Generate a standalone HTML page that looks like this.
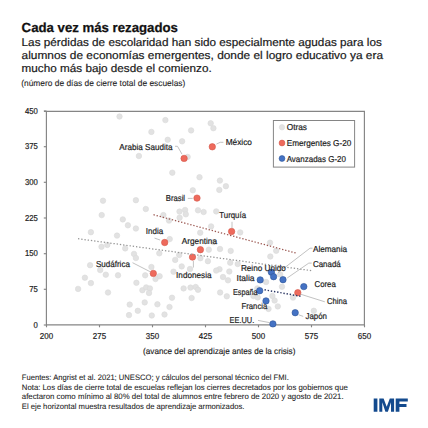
<!DOCTYPE html>
<html><head><meta charset="utf-8"><style>
html,body{margin:0;padding:0;background:#fff;width:428px;height:428px;overflow:hidden}
svg{display:block;font-family:"Liberation Sans",sans-serif;text-rendering:geometricPrecision}
</style></head><body>
<svg width="428" height="428" viewBox="0 0 428 428">
<text x="21.6" y="31.8" font-size="13.2" font-weight="bold" fill="#111" stroke="#111" stroke-width="0.25" textLength="156.3" lengthAdjust="spacingAndGlyphs">Cada vez más rezagados</text>
<text x="21.6" y="46.2" font-size="11.2" font-weight="normal" fill="#1a1a1a" stroke="#1a1a1a" stroke-width="0.2" textLength="360.2" lengthAdjust="spacingAndGlyphs">Las pérdidas de escolaridad han sido especialmente agudas para los</text>
<text x="21.6" y="58.9" font-size="11.2" font-weight="normal" fill="#1a1a1a" stroke="#1a1a1a" stroke-width="0.2" textLength="361.4" lengthAdjust="spacingAndGlyphs">alumnos de economías emergentes, donde el logro educativo ya era</text>
<text x="21.6" y="71.7" font-size="11.2" font-weight="normal" fill="#1a1a1a" stroke="#1a1a1a" stroke-width="0.2" textLength="190.1" lengthAdjust="spacingAndGlyphs">mucho más bajo desde el comienzo.</text>
<text x="21.2" y="86.0" font-size="8.5" font-weight="normal" fill="#1e1e1e" stroke="#1e1e1e" stroke-width="0.1" textLength="164.1" lengthAdjust="spacingAndGlyphs">(número de días de cierre total de escuelas)</text>
<path d="M44 111.4 H364.4 V324.9 M46.4 111 V324.9 H364.4" fill="none" stroke="#858585" stroke-width="1.15"/>
<path d="M43.8 325.0 H46.5" stroke="#858585" stroke-width="1.15"/>
<text x="37.9" y="327.5" font-size="8.6" fill="#222" stroke="#222" stroke-width="0.2" text-anchor="end" textLength="4.3" lengthAdjust="spacingAndGlyphs">0</text>
<path d="M43.8 289.3 H46.5" stroke="#858585" stroke-width="1.15"/>
<text x="37.9" y="291.8" font-size="8.6" fill="#222" stroke="#222" stroke-width="0.2" text-anchor="end" textLength="8.6" lengthAdjust="spacingAndGlyphs">75</text>
<path d="M43.8 253.7 H46.5" stroke="#858585" stroke-width="1.15"/>
<text x="37.9" y="256.2" font-size="8.6" fill="#222" stroke="#222" stroke-width="0.2" text-anchor="end" textLength="12.9" lengthAdjust="spacingAndGlyphs">150</text>
<path d="M43.8 218.0 H46.5" stroke="#858585" stroke-width="1.15"/>
<text x="37.9" y="220.5" font-size="8.6" fill="#222" stroke="#222" stroke-width="0.2" text-anchor="end" textLength="12.9" lengthAdjust="spacingAndGlyphs">225</text>
<path d="M43.8 182.3 H46.5" stroke="#858585" stroke-width="1.15"/>
<text x="37.9" y="184.8" font-size="8.6" fill="#222" stroke="#222" stroke-width="0.2" text-anchor="end" textLength="12.9" lengthAdjust="spacingAndGlyphs">300</text>
<path d="M43.8 146.7 H46.5" stroke="#858585" stroke-width="1.15"/>
<text x="37.9" y="149.2" font-size="8.6" fill="#222" stroke="#222" stroke-width="0.2" text-anchor="end" textLength="12.9" lengthAdjust="spacingAndGlyphs">375</text>
<path d="M43.8 111.0 H46.5" stroke="#858585" stroke-width="1.15"/>
<text x="37.9" y="113.5" font-size="8.6" fill="#222" stroke="#222" stroke-width="0.2" text-anchor="end" textLength="12.9" lengthAdjust="spacingAndGlyphs">450</text>
<path d="M46.5 325 V327.3" stroke="#858585" stroke-width="1.15"/>
<text x="46.5" y="339.3" font-size="8.6" fill="#222" stroke="#222" stroke-width="0.2" text-anchor="middle" textLength="13.3" lengthAdjust="spacingAndGlyphs">200</text>
<path d="M99.5 325 V327.3" stroke="#858585" stroke-width="1.15"/>
<text x="99.5" y="339.3" font-size="8.6" fill="#222" stroke="#222" stroke-width="0.2" text-anchor="middle" textLength="13.3" lengthAdjust="spacingAndGlyphs">275</text>
<path d="M152.5 325 V327.3" stroke="#858585" stroke-width="1.15"/>
<text x="152.5" y="339.3" font-size="8.6" fill="#222" stroke="#222" stroke-width="0.2" text-anchor="middle" textLength="13.3" lengthAdjust="spacingAndGlyphs">350</text>
<path d="M205.5 325 V327.3" stroke="#858585" stroke-width="1.15"/>
<text x="205.5" y="339.3" font-size="8.6" fill="#222" stroke="#222" stroke-width="0.2" text-anchor="middle" textLength="13.3" lengthAdjust="spacingAndGlyphs">425</text>
<path d="M258.5 325 V327.3" stroke="#858585" stroke-width="1.15"/>
<text x="258.5" y="339.3" font-size="8.6" fill="#222" stroke="#222" stroke-width="0.2" text-anchor="middle" textLength="13.3" lengthAdjust="spacingAndGlyphs">500</text>
<path d="M311.5 325 V327.3" stroke="#858585" stroke-width="1.15"/>
<text x="311.5" y="339.3" font-size="8.6" fill="#222" stroke="#222" stroke-width="0.2" text-anchor="middle" textLength="13.3" lengthAdjust="spacingAndGlyphs">575</text>
<path d="M364.5 325 V327.3" stroke="#858585" stroke-width="1.15"/>
<text x="364.5" y="339.3" font-size="8.6" fill="#222" stroke="#222" stroke-width="0.2" text-anchor="middle" textLength="13.3" lengthAdjust="spacingAndGlyphs">650</text>
<text x="143.1" y="353.6" font-size="8.6" font-weight="normal" fill="#1e1e1e" stroke="#1e1e1e" stroke-width="0.15" textLength="152.3" lengthAdjust="spacingAndGlyphs">(avance del aprendizaje antes de la crisis)</text>
<rect x="273.4" y="120.5" width="81.2" height="46.6" fill="#fff" stroke="#858585" stroke-width="1"/>
<circle cx="282" cy="127.3" r="2.7" fill="#e2e2e2" stroke="#dcdcdc" stroke-width="0.6"/>
<circle cx="282" cy="143" r="2.9" fill="#ee6a5c" stroke="#d4574a" stroke-width="0.6"/>
<circle cx="282" cy="158.5" r="2.9" fill="#4472c4" stroke="#2f5597" stroke-width="0.6"/>
<text x="286.7" y="130.3" font-size="8.6" font-weight="normal" fill="#1e1e1e" stroke="#1e1e1e" stroke-width="0.2" textLength="20.3" lengthAdjust="spacingAndGlyphs">Otras</text>
<text x="286.7" y="146" font-size="8.6" font-weight="normal" fill="#1e1e1e" stroke="#1e1e1e" stroke-width="0.2" textLength="64.6" lengthAdjust="spacingAndGlyphs">Emergentes G-20</text>
<text x="286.7" y="161.5" font-size="8.6" font-weight="normal" fill="#1e1e1e" stroke="#1e1e1e" stroke-width="0.2" textLength="59.3" lengthAdjust="spacingAndGlyphs">Avanzadas G-20</text>
<circle cx="119.5" cy="116.5" r="2.75" fill="#e2e2e2" stroke="#dadada" stroke-width="0.6"/>
<circle cx="165.4" cy="120.1" r="2.75" fill="#e2e2e2" stroke="#dadada" stroke-width="0.6"/>
<circle cx="151.4" cy="131.9" r="2.75" fill="#e2e2e2" stroke="#dadada" stroke-width="0.6"/>
<circle cx="167.7" cy="139.8" r="2.75" fill="#e2e2e2" stroke="#dadada" stroke-width="0.6"/>
<circle cx="138.9" cy="156" r="2.75" fill="#e2e2e2" stroke="#dadada" stroke-width="0.6"/>
<circle cx="210.7" cy="123.3" r="2.75" fill="#e2e2e2" stroke="#dadada" stroke-width="0.6"/>
<circle cx="213.4" cy="128.2" r="2.75" fill="#e2e2e2" stroke="#dadada" stroke-width="0.6"/>
<circle cx="191.1" cy="130.4" r="2.75" fill="#e2e2e2" stroke="#dadada" stroke-width="0.6"/>
<circle cx="182.1" cy="141.3" r="2.75" fill="#e2e2e2" stroke="#dadada" stroke-width="0.6"/>
<circle cx="187.6" cy="156.9" r="2.75" fill="#e2e2e2" stroke="#dadada" stroke-width="0.6"/>
<circle cx="172.3" cy="172.7" r="2.75" fill="#e2e2e2" stroke="#dadada" stroke-width="0.6"/>
<circle cx="199.5" cy="177.2" r="2.75" fill="#e2e2e2" stroke="#dadada" stroke-width="0.6"/>
<circle cx="192.8" cy="190.3" r="2.75" fill="#e2e2e2" stroke="#dadada" stroke-width="0.6"/>
<circle cx="135.9" cy="200.2" r="2.75" fill="#e2e2e2" stroke="#dadada" stroke-width="0.6"/>
<circle cx="145.8" cy="209" r="2.75" fill="#e2e2e2" stroke="#dadada" stroke-width="0.6"/>
<circle cx="179.5" cy="211.6" r="2.75" fill="#e2e2e2" stroke="#dadada" stroke-width="0.6"/>
<circle cx="185.1" cy="210" r="2.75" fill="#e2e2e2" stroke="#dadada" stroke-width="0.6"/>
<circle cx="185.8" cy="214.3" r="2.75" fill="#e2e2e2" stroke="#dadada" stroke-width="0.6"/>
<circle cx="198" cy="210.3" r="2.75" fill="#e2e2e2" stroke="#dadada" stroke-width="0.6"/>
<circle cx="163.4" cy="215.1" r="2.75" fill="#e2e2e2" stroke="#dadada" stroke-width="0.6"/>
<circle cx="122.8" cy="219.4" r="2.75" fill="#e2e2e2" stroke="#dadada" stroke-width="0.6"/>
<circle cx="179.6" cy="217.7" r="2.75" fill="#e2e2e2" stroke="#dadada" stroke-width="0.6"/>
<circle cx="219.9" cy="180.6" r="2.75" fill="#e2e2e2" stroke="#dadada" stroke-width="0.6"/>
<circle cx="225.9" cy="186.2" r="2.75" fill="#e2e2e2" stroke="#dadada" stroke-width="0.6"/>
<circle cx="219.3" cy="189.9" r="2.75" fill="#e2e2e2" stroke="#dadada" stroke-width="0.6"/>
<circle cx="203.6" cy="212" r="2.75" fill="#e2e2e2" stroke="#dadada" stroke-width="0.6"/>
<circle cx="216.2" cy="211.4" r="2.75" fill="#e2e2e2" stroke="#dadada" stroke-width="0.6"/>
<circle cx="103" cy="200.7" r="2.75" fill="#e2e2e2" stroke="#dadada" stroke-width="0.6"/>
<circle cx="101.7" cy="215.1" r="2.75" fill="#e2e2e2" stroke="#dadada" stroke-width="0.6"/>
<circle cx="90.9" cy="232.2" r="2.75" fill="#e2e2e2" stroke="#dadada" stroke-width="0.6"/>
<circle cx="117" cy="235.6" r="2.75" fill="#e2e2e2" stroke="#dadada" stroke-width="0.6"/>
<circle cx="101.5" cy="246.8" r="2.75" fill="#e2e2e2" stroke="#dadada" stroke-width="0.6"/>
<circle cx="107.3" cy="244.9" r="2.75" fill="#e2e2e2" stroke="#dadada" stroke-width="0.6"/>
<circle cx="125.2" cy="248.4" r="2.75" fill="#e2e2e2" stroke="#dadada" stroke-width="0.6"/>
<circle cx="90.1" cy="265.2" r="2.75" fill="#e2e2e2" stroke="#dadada" stroke-width="0.6"/>
<circle cx="100.2" cy="270.1" r="2.75" fill="#e2e2e2" stroke="#dadada" stroke-width="0.6"/>
<circle cx="127.9" cy="225.3" r="2.75" fill="#e2e2e2" stroke="#dadada" stroke-width="0.6"/>
<circle cx="135.9" cy="228.5" r="2.75" fill="#e2e2e2" stroke="#dadada" stroke-width="0.6"/>
<circle cx="169" cy="220.6" r="2.75" fill="#e2e2e2" stroke="#dadada" stroke-width="0.6"/>
<circle cx="169.7" cy="239.1" r="2.75" fill="#e2e2e2" stroke="#dadada" stroke-width="0.6"/>
<circle cx="134" cy="253.9" r="2.75" fill="#e2e2e2" stroke="#dadada" stroke-width="0.6"/>
<circle cx="135.9" cy="258" r="2.75" fill="#e2e2e2" stroke="#dadada" stroke-width="0.6"/>
<circle cx="159.3" cy="253.3" r="2.75" fill="#e2e2e2" stroke="#dadada" stroke-width="0.6"/>
<circle cx="175.2" cy="259.9" r="2.75" fill="#e2e2e2" stroke="#dadada" stroke-width="0.6"/>
<circle cx="179.2" cy="255" r="2.75" fill="#e2e2e2" stroke="#dadada" stroke-width="0.6"/>
<circle cx="151.4" cy="267" r="2.75" fill="#e2e2e2" stroke="#dadada" stroke-width="0.6"/>
<circle cx="181.7" cy="266.4" r="2.75" fill="#e2e2e2" stroke="#dadada" stroke-width="0.6"/>
<circle cx="211.1" cy="226.4" r="2.75" fill="#e2e2e2" stroke="#dadada" stroke-width="0.6"/>
<circle cx="240.2" cy="232.4" r="2.75" fill="#e2e2e2" stroke="#dadada" stroke-width="0.6"/>
<circle cx="200.2" cy="232.7" r="2.75" fill="#e2e2e2" stroke="#dadada" stroke-width="0.6"/>
<circle cx="208.8" cy="249.7" r="2.75" fill="#e2e2e2" stroke="#dadada" stroke-width="0.6"/>
<circle cx="220" cy="249" r="2.75" fill="#e2e2e2" stroke="#dadada" stroke-width="0.6"/>
<circle cx="230.7" cy="250.9" r="2.75" fill="#e2e2e2" stroke="#dadada" stroke-width="0.6"/>
<circle cx="207.9" cy="261.2" r="2.75" fill="#e2e2e2" stroke="#dadada" stroke-width="0.6"/>
<circle cx="230.2" cy="262.7" r="2.75" fill="#e2e2e2" stroke="#dadada" stroke-width="0.6"/>
<circle cx="237.7" cy="264" r="2.75" fill="#e2e2e2" stroke="#dadada" stroke-width="0.6"/>
<circle cx="219.5" cy="269.2" r="2.75" fill="#e2e2e2" stroke="#dadada" stroke-width="0.6"/>
<circle cx="270" cy="242.7" r="2.75" fill="#e2e2e2" stroke="#dadada" stroke-width="0.6"/>
<circle cx="276.2" cy="250.8" r="2.75" fill="#e2e2e2" stroke="#dadada" stroke-width="0.6"/>
<circle cx="270.3" cy="256.5" r="2.75" fill="#e2e2e2" stroke="#dadada" stroke-width="0.6"/>
<circle cx="266.1" cy="282" r="2.75" fill="#e2e2e2" stroke="#dadada" stroke-width="0.6"/>
<circle cx="282" cy="286.7" r="2.75" fill="#e2e2e2" stroke="#dadada" stroke-width="0.6"/>
<circle cx="293" cy="297.6" r="2.75" fill="#e2e2e2" stroke="#dadada" stroke-width="0.6"/>
<circle cx="277.8" cy="306.4" r="2.75" fill="#e2e2e2" stroke="#dadada" stroke-width="0.6"/>
<circle cx="313.8" cy="310.8" r="2.75" fill="#e2e2e2" stroke="#dadada" stroke-width="0.6"/>
<circle cx="228" cy="280.3" r="2.75" fill="#e2e2e2" stroke="#dadada" stroke-width="0.6"/>
<circle cx="220.1" cy="292.5" r="2.75" fill="#e2e2e2" stroke="#dadada" stroke-width="0.6"/>
<circle cx="226.8" cy="296.3" r="2.75" fill="#e2e2e2" stroke="#dadada" stroke-width="0.6"/>
<circle cx="253.4" cy="296" r="2.75" fill="#e2e2e2" stroke="#dadada" stroke-width="0.6"/>
<circle cx="274.6" cy="300.5" r="2.75" fill="#e2e2e2" stroke="#dadada" stroke-width="0.6"/>
<circle cx="105.8" cy="274.7" r="2.75" fill="#e2e2e2" stroke="#dadada" stroke-width="0.6"/>
<circle cx="118" cy="275.3" r="2.75" fill="#e2e2e2" stroke="#dadada" stroke-width="0.6"/>
<circle cx="84.9" cy="277.7" r="2.75" fill="#e2e2e2" stroke="#dadada" stroke-width="0.6"/>
<circle cx="90.9" cy="283.1" r="2.75" fill="#e2e2e2" stroke="#dadada" stroke-width="0.6"/>
<circle cx="78.1" cy="288.9" r="2.75" fill="#e2e2e2" stroke="#dadada" stroke-width="0.6"/>
<circle cx="108" cy="292.5" r="2.75" fill="#e2e2e2" stroke="#dadada" stroke-width="0.6"/>
<circle cx="145.2" cy="275.3" r="2.75" fill="#e2e2e2" stroke="#dadada" stroke-width="0.6"/>
<circle cx="159.6" cy="276.2" r="2.75" fill="#e2e2e2" stroke="#dadada" stroke-width="0.6"/>
<circle cx="155.5" cy="279" r="2.75" fill="#e2e2e2" stroke="#dadada" stroke-width="0.6"/>
<circle cx="136.4" cy="282.8" r="2.75" fill="#e2e2e2" stroke="#dadada" stroke-width="0.6"/>
<circle cx="142.4" cy="290.2" r="2.75" fill="#e2e2e2" stroke="#dadada" stroke-width="0.6"/>
<circle cx="146.2" cy="287.4" r="2.75" fill="#e2e2e2" stroke="#dadada" stroke-width="0.6"/>
<circle cx="149.9" cy="288.4" r="2.75" fill="#e2e2e2" stroke="#dadada" stroke-width="0.6"/>
<circle cx="149" cy="293" r="2.75" fill="#e2e2e2" stroke="#dadada" stroke-width="0.6"/>
<circle cx="172" cy="297.7" r="2.75" fill="#e2e2e2" stroke="#dadada" stroke-width="0.6"/>
<circle cx="129.7" cy="304.6" r="2.75" fill="#e2e2e2" stroke="#dadada" stroke-width="0.6"/>
<circle cx="144.7" cy="302.4" r="2.75" fill="#e2e2e2" stroke="#dadada" stroke-width="0.6"/>
<circle cx="157.4" cy="304.3" r="2.75" fill="#e2e2e2" stroke="#dadada" stroke-width="0.6"/>
<circle cx="169.5" cy="307" r="2.75" fill="#e2e2e2" stroke="#dadada" stroke-width="0.6"/>
<circle cx="137.8" cy="310.8" r="2.75" fill="#e2e2e2" stroke="#dadada" stroke-width="0.6"/>
<circle cx="129" cy="315.1" r="2.75" fill="#e2e2e2" stroke="#dadada" stroke-width="0.6"/>
<circle cx="151.8" cy="315.5" r="2.75" fill="#e2e2e2" stroke="#dadada" stroke-width="0.6"/>
<circle cx="164.5" cy="314.5" r="2.75" fill="#e2e2e2" stroke="#dadada" stroke-width="0.6"/>
<circle cx="190" cy="269" r="2.75" fill="#e2e2e2" stroke="#dadada" stroke-width="0.6"/>
<circle cx="173.5" cy="271.7" r="2.75" fill="#e2e2e2" stroke="#dadada" stroke-width="0.6"/>
<circle cx="183.6" cy="288.4" r="2.75" fill="#e2e2e2" stroke="#dadada" stroke-width="0.6"/>
<circle cx="190.5" cy="287.6" r="2.75" fill="#e2e2e2" stroke="#dadada" stroke-width="0.6"/>
<circle cx="195.7" cy="287" r="2.75" fill="#e2e2e2" stroke="#dadada" stroke-width="0.6"/>
<circle cx="198" cy="289.8" r="2.75" fill="#e2e2e2" stroke="#dadada" stroke-width="0.6"/>
<circle cx="191.6" cy="298" r="2.75" fill="#e2e2e2" stroke="#dadada" stroke-width="0.6"/>
<circle cx="216.2" cy="270.6" r="2.75" fill="#e2e2e2" stroke="#dadada" stroke-width="0.6"/>
<circle cx="229.3" cy="271.5" r="2.75" fill="#e2e2e2" stroke="#dadada" stroke-width="0.6"/>
<circle cx="223" cy="277" r="2.75" fill="#e2e2e2" stroke="#dadada" stroke-width="0.6"/>
<circle cx="257.3" cy="288.4" r="2.75" fill="#e2e2e2" stroke="#dadada" stroke-width="0.6"/>
<circle cx="268.5" cy="308.9" r="2.75" fill="#e2e2e2" stroke="#dadada" stroke-width="0.6"/>
<circle cx="257.7" cy="297.4" r="2.75" fill="#e2e2e2" stroke="#dadada" stroke-width="0.6"/>
<circle cx="272.4" cy="296" r="2.75" fill="#e2e2e2" stroke="#dadada" stroke-width="0.6"/>
<circle cx="200.4" cy="258.2" r="2.75" fill="#e2e2e2" stroke="#dadada" stroke-width="0.6"/>
<circle cx="280.2" cy="274.5" r="2.75" fill="#e2e2e2" stroke="#dadada" stroke-width="0.6"/>
<circle cx="213.4" cy="242.1" r="2.75" fill="#e2e2e2" stroke="#dadada" stroke-width="0.6"/>
<circle cx="184.1" cy="158.4" r="3.2" fill="#ee6a5c" stroke="#d4574a" stroke-width="0.6"/>
<circle cx="212.3" cy="146.8" r="3.2" fill="#ee6a5c" stroke="#d4574a" stroke-width="0.6"/>
<circle cx="197" cy="198.1" r="3.2" fill="#ee6a5c" stroke="#d4574a" stroke-width="0.6"/>
<circle cx="231.6" cy="231.5" r="3.2" fill="#ee6a5c" stroke="#d4574a" stroke-width="0.6"/>
<circle cx="164.7" cy="242.5" r="3.2" fill="#ee6a5c" stroke="#d4574a" stroke-width="0.6"/>
<circle cx="200.4" cy="249.7" r="3.2" fill="#ee6a5c" stroke="#d4574a" stroke-width="0.6"/>
<circle cx="192.5" cy="257.1" r="3.2" fill="#ee6a5c" stroke="#d4574a" stroke-width="0.6"/>
<circle cx="153.3" cy="273.4" r="3.2" fill="#ee6a5c" stroke="#d4574a" stroke-width="0.6"/>
<circle cx="297.8" cy="292.7" r="3.2" fill="#ee6a5c" stroke="#d4574a" stroke-width="0.6"/>
<circle cx="271.4" cy="272.2" r="3.2" fill="#4472c4" stroke="#2f5597" stroke-width="0.6"/>
<circle cx="273.6" cy="276.7" r="3.2" fill="#4472c4" stroke="#2f5597" stroke-width="0.6"/>
<circle cx="283" cy="279.7" r="3.2" fill="#4472c4" stroke="#2f5597" stroke-width="0.6"/>
<circle cx="260.2" cy="279.9" r="3.2" fill="#4472c4" stroke="#2f5597" stroke-width="0.6"/>
<circle cx="303.8" cy="286.6" r="3.2" fill="#4472c4" stroke="#2f5597" stroke-width="0.6"/>
<circle cx="259.7" cy="290.7" r="3.2" fill="#4472c4" stroke="#2f5597" stroke-width="0.6"/>
<circle cx="266" cy="300.9" r="3.2" fill="#4472c4" stroke="#2f5597" stroke-width="0.6"/>
<circle cx="295.2" cy="312.7" r="3.2" fill="#4472c4" stroke="#2f5597" stroke-width="0.6"/>
<circle cx="272.9" cy="323.9" r="3.2" fill="#4472c4" stroke="#2f5597" stroke-width="0.6"/>
<path d="M78 238.7 L312.5 270.8" stroke="#959595" stroke-width="1.25" stroke-dasharray="1.35 1.9" fill="none"/>
<path d="M153.5 214.7 L296.5 253.2" stroke="#9a5650" stroke-width="1.25" stroke-dasharray="1.35 1.82" fill="none"/>
<path d="M264.5 289.8 L302.3 296.6" stroke="#2f3a66" stroke-width="1.5" stroke-dasharray="1.4 1.8" fill="none"/>
<path d="M175 146.3 H177.5 L182 154.2" stroke="#b3b3b3" stroke-width="0.8" fill="none"/>
<path d="M216.4 144.1 L220.2 142.3 H223.4" stroke="#b3b3b3" stroke-width="0.8" fill="none"/>
<path d="M187.8 198.4 H192.7" stroke="#b3b3b3" stroke-width="0.8" fill="none"/>
<path d="M154.5 238.1 L160.1 240" stroke="#b3b3b3" stroke-width="0.8" fill="none"/>
<path d="M232 221.8 V228.2" stroke="#b3b3b3" stroke-width="0.8" fill="none"/>
<path d="M193.4 261 V267.5" stroke="#b3b3b3" stroke-width="0.8" fill="none"/>
<path d="M132.5 262.7 L150.5 271.9" stroke="#b3b3b3" stroke-width="0.8" fill="none"/>
<path d="M312.5 248.2 H310 L278 272.8" stroke="#b3b3b3" stroke-width="0.8" fill="none"/>
<path d="M311.7 263.1 H308.8 L287.2 278" stroke="#b3b3b3" stroke-width="0.8" fill="none"/>
<path d="M300.6 294.2 L324.8 301.8" stroke="#b3b3b3" stroke-width="0.8" fill="none"/>
<path d="M298.7 314.8 L303.2 316.4" stroke="#b3b3b3" stroke-width="0.8" fill="none"/>
<path d="M258 320.4 L269.9 322.7" stroke="#b3b3b3" stroke-width="0.8" fill="none"/>
<text x="119.3" y="150" font-size="8.6" font-weight="normal" fill="#1e1e1e" stroke="#1e1e1e" stroke-width="0.2" textLength="53.2" lengthAdjust="spacingAndGlyphs">Arabia Saudita</text>
<text x="225.7" y="144.8" font-size="8.6" font-weight="normal" fill="#1e1e1e" stroke="#1e1e1e" stroke-width="0.2" textLength="26.3" lengthAdjust="spacingAndGlyphs">México</text>
<text x="165.8" y="201.3" font-size="8.6" font-weight="normal" fill="#1e1e1e" stroke="#1e1e1e" stroke-width="0.2" textLength="19.3" lengthAdjust="spacingAndGlyphs">Brasil</text>
<text x="219.3" y="218.1" font-size="8.6" font-weight="normal" fill="#1e1e1e" stroke="#1e1e1e" stroke-width="0.2" textLength="26.7" lengthAdjust="spacingAndGlyphs">Turquía</text>
<text x="145.8" y="234.3" font-size="8.6" font-weight="normal" fill="#1e1e1e" stroke="#1e1e1e" stroke-width="0.2" textLength="17.4" lengthAdjust="spacingAndGlyphs">India</text>
<text x="181.8" y="243.6" font-size="8.6" font-weight="normal" fill="#1e1e1e" stroke="#1e1e1e" stroke-width="0.2" textLength="35.2" lengthAdjust="spacingAndGlyphs">Argentina</text>
<text x="95.9" y="266.9" font-size="8.6" font-weight="normal" fill="#1e1e1e" stroke="#1e1e1e" stroke-width="0.2" textLength="34.0" lengthAdjust="spacingAndGlyphs">Sudáfrica</text>
<text x="176.1" y="277.5" font-size="8.6" font-weight="normal" fill="#1e1e1e" stroke="#1e1e1e" stroke-width="0.2" textLength="35.4" lengthAdjust="spacingAndGlyphs">Indonesia</text>
<text x="240.9" y="271.0" font-size="8.6" font-weight="normal" fill="#1e1e1e" stroke="#1e1e1e" stroke-width="0.2" textLength="45.0" lengthAdjust="spacingAndGlyphs">Reino Unido</text>
<text x="313" y="252.1" font-size="8.6" font-weight="normal" fill="#1e1e1e" stroke="#1e1e1e" stroke-width="0.2" textLength="34.0" lengthAdjust="spacingAndGlyphs">Alemania</text>
<text x="313" y="267.1" font-size="8.6" font-weight="normal" fill="#1e1e1e" stroke="#1e1e1e" stroke-width="0.2" textLength="27.7" lengthAdjust="spacingAndGlyphs">Canadá</text>
<text x="236.6" y="281.1" font-size="8.6" font-weight="normal" fill="#1e1e1e" stroke="#1e1e1e" stroke-width="0.2" textLength="18.0" lengthAdjust="spacingAndGlyphs">Italia</text>
<text x="314.5" y="286.9" font-size="8.6" font-weight="normal" fill="#1e1e1e" stroke="#1e1e1e" stroke-width="0.2" textLength="21.3" lengthAdjust="spacingAndGlyphs">Corea</text>
<text x="232.9" y="295.2" font-size="8.6" font-weight="normal" fill="#1e1e1e" stroke="#1e1e1e" stroke-width="0.2" textLength="24.7" lengthAdjust="spacingAndGlyphs">España</text>
<text x="327" y="303.8" font-size="8.6" font-weight="normal" fill="#1e1e1e" stroke="#1e1e1e" stroke-width="0.2" textLength="20.0" lengthAdjust="spacingAndGlyphs">China</text>
<text x="241.5" y="309.1" font-size="8.6" font-weight="normal" fill="#1e1e1e" stroke="#1e1e1e" stroke-width="0.2" textLength="25.8" lengthAdjust="spacingAndGlyphs">Francia</text>
<text x="305.5" y="318.9" font-size="8.6" font-weight="normal" fill="#1e1e1e" stroke="#1e1e1e" stroke-width="0.2" textLength="21.5" lengthAdjust="spacingAndGlyphs">Japón</text>
<text x="229.5" y="322.7" font-size="8.6" font-weight="normal" fill="#1e1e1e" stroke="#1e1e1e" stroke-width="0.2" textLength="24.7" lengthAdjust="spacingAndGlyphs">EE.UU.</text>
<text x="21.8" y="379.7" font-size="7.9" font-weight="normal" fill="#1e1e1e" stroke="#1e1e1e" stroke-width="0.08" textLength="267.0" lengthAdjust="spacingAndGlyphs">Fuentes: Angrist et al. 2021; UNESCO; y cálculos del personal técnico del FMI.</text>
<text x="21.8" y="389.6" font-size="7.9" font-weight="normal" fill="#1e1e1e" stroke="#1e1e1e" stroke-width="0.08" textLength="326.0" lengthAdjust="spacingAndGlyphs">Nota: Los días de cierre total de escuelas reflejan los cierres decretados por los gobiernos que</text>
<text x="21.8" y="399.3" font-size="7.9" font-weight="normal" fill="#1e1e1e" stroke="#1e1e1e" stroke-width="0.08" textLength="321.8" lengthAdjust="spacingAndGlyphs">afectaron como mínimo al 80% del total de alumnos entre febrero de 2020 y agosto de 2021.</text>
<text x="21.8" y="409.1" font-size="7.9" font-weight="normal" fill="#1e1e1e" stroke="#1e1e1e" stroke-width="0.08" textLength="222.6" lengthAdjust="spacingAndGlyphs">El eje horizontal muestra resultados de aprendizaje armonizados.</text>
<path fill="#134a8e" d="M373.7 398.4h3.7v13.3h-3.7z M379.3 411.7V398.4h4.3l3.1 8.4 3.1-8.4h4.3v13.3h-3.1v-9.4l-3.1 9.4h-2.5l-3.1-9.4v9.4z M395.7 398.4h12.1v3.2h-8.4v2.4h7.1v3.1h-7.1v4.6h-3.7z"/>
</svg>
</body></html>
